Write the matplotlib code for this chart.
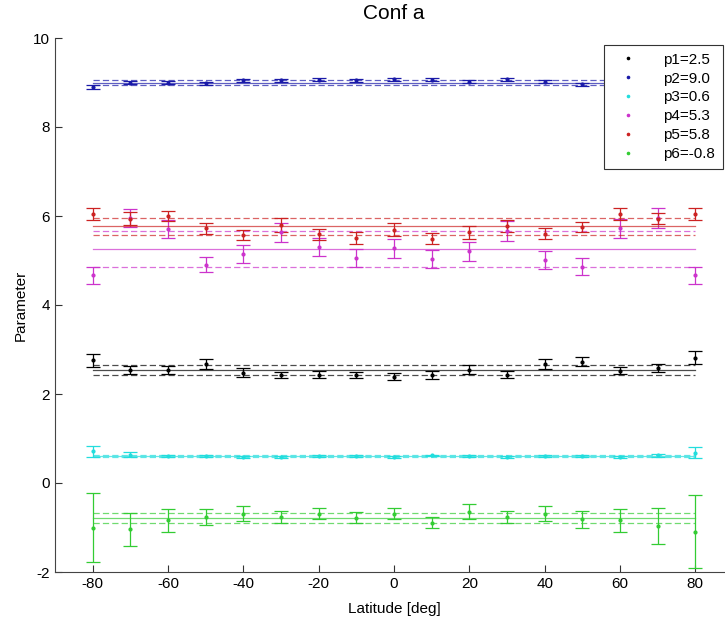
import matplotlib
matplotlib.use("Agg")
import matplotlib.pyplot as plt

# ── Data ─────────────────────────────────────────────────────────────────────
LAT = [-80, -70, -60, -50, -40, -30, -20, -10, 0, 10, 20, 30, 40, 50, 60, 70, 80]

P1_VAL = [2.76, 2.55, 2.55, 2.67, 2.48, 2.43, 2.43, 2.43, 2.39, 2.43, 2.55, 2.43, 2.67, 2.73, 2.52, 2.59, 2.82]
P1_ERR = [0.15, 0.09, 0.09, 0.11, 0.10, 0.06, 0.08, 0.06, 0.08, 0.09, 0.10, 0.08, 0.11, 0.10, 0.08, 0.09, 0.15]

P2_VAL = [8.90, 9.00, 9.00, 8.98, 9.05, 9.05, 9.06, 9.05, 9.07, 9.06, 9.02, 9.07, 9.02, 8.96, 9.00, 9.00, 9.00]
P2_ERR = [0.04, 0.03, 0.03, 0.03, 0.03, 0.03, 0.03, 0.03, 0.03, 0.03, 0.03, 0.03, 0.03, 0.04, 0.04, 0.04, 0.04]

P3_VAL = [0.71, 0.64, 0.60, 0.60, 0.59, 0.59, 0.60, 0.60, 0.59, 0.62, 0.60, 0.59, 0.61, 0.61, 0.59, 0.62, 0.68]
P3_ERR = [0.13, 0.06, 0.02, 0.02, 0.02, 0.02, 0.02, 0.02, 0.02, 0.02, 0.02, 0.02, 0.02, 0.02, 0.02, 0.04, 0.12]

P4_VAL = [4.67, 5.96, 5.70, 4.91, 5.14, 5.63, 5.31, 5.05, 5.27, 5.03, 5.21, 5.66, 5.02, 4.86, 5.72, 5.96, 4.67]
P4_ERR = [0.19, 0.20, 0.20, 0.17, 0.20, 0.22, 0.20, 0.20, 0.21, 0.20, 0.21, 0.22, 0.20, 0.19, 0.21, 0.22, 0.19]

P5_VAL = [6.04, 5.94, 6.00, 5.72, 5.57, 5.80, 5.59, 5.51, 5.69, 5.49, 5.63, 5.78, 5.60, 5.75, 6.04, 5.94, 6.05]
P5_ERR = [0.14, 0.14, 0.12, 0.12, 0.12, 0.15, 0.12, 0.13, 0.15, 0.12, 0.14, 0.13, 0.12, 0.12, 0.13, 0.13, 0.13]

P6_VAL = [-1.00, -1.04, -0.84, -0.76, -0.69, -0.76, -0.69, -0.78, -0.69, -0.89, -0.65, -0.76, -0.69, -0.82, -0.84, -0.97, -1.09]
P6_ERR = [0.77, 0.37, 0.25, 0.18, 0.17, 0.14, 0.13, 0.13, 0.13, 0.13, 0.17, 0.14, 0.17, 0.18, 0.26, 0.40, 0.81]

# mean (solid line) and the dashed band around it, per parameter
MEANS = [2.54, 9.00, 0.60, 5.26, 5.77, -0.78]
BAND_LO = [2.42, 8.95, 0.58, 4.86, 5.58, -0.89]
BAND_HI = [2.65, 9.06, 0.62, 5.66, 5.96, -0.67]
LABELS = ["p1=2.5", "p2=9.0", "p3=0.6", "p4=5.3", "p5=5.8", "p6=-0.8"]
COLORS = ["#000000", "#1a1aa8", "#22dddd", "#cc33cc", "#cc2222", "#33cc33"]
# ──────────────────────────────────────────────────────────────────────────────

plt.rcParams["font.family"] = ["Liberation Sans", "DejaVu Sans"]
plt.rcParams["axes.unicode_minus"] = False

fig = plt.figure(figsize=(7.25, 6.2), dpi=100)
ax = fig.add_axes([55 / 725, 48 / 620, 678 / 725, 534 / 620])

series = [(P1_VAL, P1_ERR), (P2_VAL, P2_ERR), (P3_VAL, P3_ERR),
          (P4_VAL, P4_ERR), (P5_VAL, P5_ERR), (P6_VAL, P6_ERR)]

handles = []
for (vals, errs), mean, lo, hi, col, lab in zip(series, MEANS, BAND_LO, BAND_HI, COLORS, LABELS):
    eb = ax.errorbar(LAT, vals, yerr=errs, fmt=".", color=col, ms=4,
                     elinewidth=0.9, capsize=5, capthick=0.9, label=lab)
    handles.append(eb[0])
    ax.plot([LAT[0], LAT[-1]], [mean, mean], color=col, lw=0.9, alpha=0.7)
    for y in (lo, hi):
        ax.plot([LAT[0], LAT[-1]], [y, y], color=col, lw=0.9, alpha=0.7,
                dashes=(5, 2.5))

ax.set_xlim(-90, 90)
ax.set_ylim(-2, 10)
ax.set_xticks(range(-80, 81, 20))
ax.set_yticks(range(-2, 11, 2))
ax.tick_params(direction="in", length=5, labelsize=11, colors="#333333",
               labelcolor="black")
for side in ("top", "right"):
    ax.spines[side].set_visible(False)
for side in ("left", "bottom"):
    ax.spines[side].set_color("#444444")

ax.set_title("Conf a", fontsize=15, pad=14)
ax.set_xlabel("Latitude [deg]", fontsize=11, labelpad=8)
ax.set_ylabel("Parameter", fontsize=11)

leg = ax.legend(handles, LABELS, loc="upper right",
                bbox_to_anchor=(723 / 725, 1 - 45 / 620),
                bbox_transform=fig.transFigure, borderaxespad=0,
                fancybox=False, fontsize=11, markerscale=0.8,
                handlelength=2.2, handletextpad=1.2, labelspacing=0.32,
                borderpad=0.5)
leg.get_frame().set_edgecolor("#333333")
leg.get_frame().set_linewidth(0.8)
leg.get_frame().set_alpha(1)

fig.savefig("out.png", dpi=100)
